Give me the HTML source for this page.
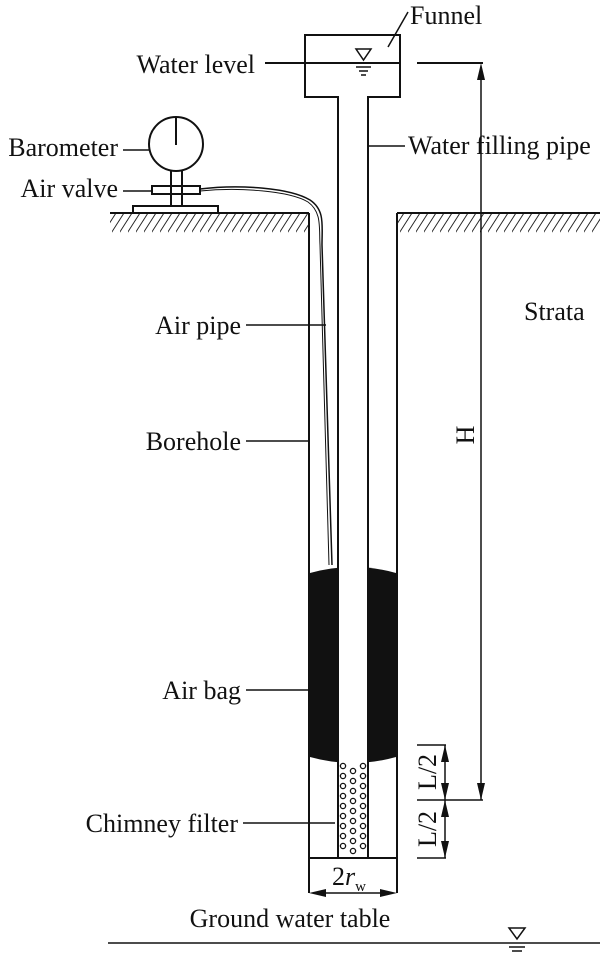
<!DOCTYPE html>
<html><head><style>
html,body{margin:0;padding:0;background:#fff;}
svg{display:block;}
text{font-family:"Liberation Serif",serif;font-size:26px;fill:#111;}
</style></head><body>
<svg width="600" height="958" viewBox="0 0 600 958" xmlns="http://www.w3.org/2000/svg">
<defs>
<pattern id="h" width="8" height="25" patternUnits="userSpaceOnUse" patternTransform="translate(0,213)">
<line x1="-4" y1="25" x2="12" y2="0" stroke="#222" stroke-width="1"/>
<line x1="-12" y1="25" x2="4" y2="0" stroke="#222" stroke-width="1"/>
</pattern>
</defs>
<g stroke="#111" stroke-width="2" fill="none">
<rect x="110" y="213" width="198" height="25" fill="url(#h)" stroke="none"/>
<rect x="397" y="213" width="203" height="25" fill="url(#h)" stroke="none"/>
<line x1="110" y1="213" x2="309" y2="213"/>
<line x1="397" y1="213" x2="600" y2="213"/>
<line x1="309" y1="213" x2="309" y2="893"/>
<line x1="397" y1="213" x2="397" y2="893"/>
<line x1="309" y1="858" x2="397" y2="858"/>
<path d="M338 858 V97 H305 V35 H400 V97 H368 V858"/>
<line x1="265" y1="63" x2="400" y2="63"/>
<line x1="417" y1="63" x2="483" y2="63"/>
<path d="M356 49 L371 49 L363.5 60 Z" stroke-width="1.5"/>
<line x1="356" y1="67" x2="371" y2="67" stroke-width="1.5"/>
<line x1="359" y1="71" x2="368" y2="71" stroke-width="1.5"/>
<line x1="361" y1="75" x2="366" y2="75" stroke-width="1.5"/>
<line x1="388" y1="47" x2="408" y2="12" stroke-width="1.5"/>
<path d="M310 573 Q353 561 396 573 V757 Q353 769 310 757 Z" fill="#111" stroke="none"/>
<rect x="338" y="560" width="30" height="210" fill="#fff" stroke="none"/>
<line x1="338" y1="560" x2="338" y2="770"/>
<line x1="368" y1="560" x2="368" y2="770"/>
<circle cx="176" cy="144" r="27"/>
<line x1="176" y1="118" x2="176" y2="145"/>
<line x1="171" y1="171" x2="171" y2="206"/>
<line x1="182" y1="171" x2="182" y2="206"/>
<rect x="152" y="186" width="48" height="8" fill="#fff"/>
<rect x="133" y="206" width="85" height="7" fill="#fff"/>
<line x1="171" y1="186" x2="171" y2="194"/>
<line x1="182" y1="186" x2="182" y2="194"/>
<path d="M200 189 C240 184 290 188 310 200 C325 210 322 225 322 245 L332 565" stroke-width="1.5"/>
<path d="M200 191 C240 187 290 191 308 202 C322 212 319 228 320 245 L329 565" stroke-width="1"/>
<line x1="123" y1="150" x2="149" y2="150" stroke-width="1.5"/>
<line x1="123" y1="191" x2="152" y2="191" stroke-width="1.5"/>
<line x1="368" y1="146" x2="405" y2="146" stroke-width="1.5"/>
<line x1="246" y1="325" x2="326" y2="325" stroke-width="1.5"/>
<line x1="246" y1="441" x2="308" y2="441" stroke-width="1.5"/>
<line x1="246" y1="690" x2="310" y2="690" stroke-width="1.5"/>
<line x1="243" y1="823" x2="335" y2="823" stroke-width="1.5"/>
<line x1="481" y1="75" x2="481" y2="800" stroke-width="1.5"/>
<path d="M481 63 L477 80 L485 80 Z" fill="#111" stroke="none"/>
<path d="M481 800 L477 783 L485 783 Z" fill="#111" stroke="none"/>
<line x1="417" y1="800" x2="483" y2="800" stroke-width="1.5"/>
<line x1="417" y1="745" x2="446" y2="745" stroke-width="1.5"/>
<line x1="417" y1="858" x2="446" y2="858" stroke-width="1.5"/>
<line x1="445" y1="745" x2="445" y2="858" stroke-width="1.5"/>
<path d="M445 745 L441 762 L449 762 Z M445 800 L441 783 L449 783 Z M445 800 L441 817 L449 817 Z M445 858 L441 841 L449 841 Z" fill="#111" stroke="none"/>
<path d="M309 893 L326 889 L326 897 Z M397 893 L380 889 L380 897 Z" fill="#111" stroke="none"/>
<line x1="320" y1="893" x2="386" y2="893" stroke-width="1.5"/>
<line x1="108" y1="943" x2="600" y2="943" stroke-width="1.5"/>
<path d="M509 928 L525 928 L517 939 Z" stroke-width="1.5"/>
<line x1="509" y1="947" x2="525" y2="947" stroke-width="1.5"/>
<line x1="512" y1="951" x2="522" y2="951" stroke-width="1.5"/>
</g>
<g fill="none" stroke="#111" stroke-width="1.3">
<circle cx="343" cy="766" r="2.6"/><circle cx="343" cy="776" r="2.6"/><circle cx="343" cy="786" r="2.6"/><circle cx="343" cy="796" r="2.6"/><circle cx="343" cy="806" r="2.6"/><circle cx="343" cy="816" r="2.6"/><circle cx="343" cy="826" r="2.6"/><circle cx="343" cy="836" r="2.6"/><circle cx="343" cy="846" r="2.6"/>
<circle cx="353" cy="771" r="2.6"/><circle cx="353" cy="781" r="2.6"/><circle cx="353" cy="791" r="2.6"/><circle cx="353" cy="801" r="2.6"/><circle cx="353" cy="811" r="2.6"/><circle cx="353" cy="821" r="2.6"/><circle cx="353" cy="831" r="2.6"/><circle cx="353" cy="841" r="2.6"/><circle cx="353" cy="851" r="2.6"/>
<circle cx="363" cy="766" r="2.6"/><circle cx="363" cy="776" r="2.6"/><circle cx="363" cy="786" r="2.6"/><circle cx="363" cy="796" r="2.6"/><circle cx="363" cy="806" r="2.6"/><circle cx="363" cy="816" r="2.6"/><circle cx="363" cy="826" r="2.6"/><circle cx="363" cy="836" r="2.6"/><circle cx="363" cy="846" r="2.6"/>
</g>
<text x="410" y="24">Funnel</text>
<text x="255" y="73" text-anchor="end">Water level</text>
<text x="408" y="154">Water filling pipe</text>
<text x="118" y="156" text-anchor="end">Barometer</text>
<text x="118" y="197" text-anchor="end">Air valve</text>
<text x="524" y="320">Strata</text>
<text x="241" y="334" text-anchor="end">Air pipe</text>
<text x="241" y="450" text-anchor="end">Borehole</text>
<text x="241" y="699" text-anchor="end">Air bag</text>
<text x="238" y="832" text-anchor="end">Chimney filter</text>
<text x="290" y="927" text-anchor="middle">Ground water table</text>
<text transform="translate(474,435) rotate(-90)" text-anchor="middle">H</text>
<text transform="translate(436,772) rotate(-90)" text-anchor="middle">L/2</text>
<text transform="translate(436,829) rotate(-90)" text-anchor="middle">L/2</text>
<text x="332" y="885">2<tspan font-style="italic">r</tspan><tspan font-size="15" dy="6">w</tspan></text>
</svg>
</body></html>
